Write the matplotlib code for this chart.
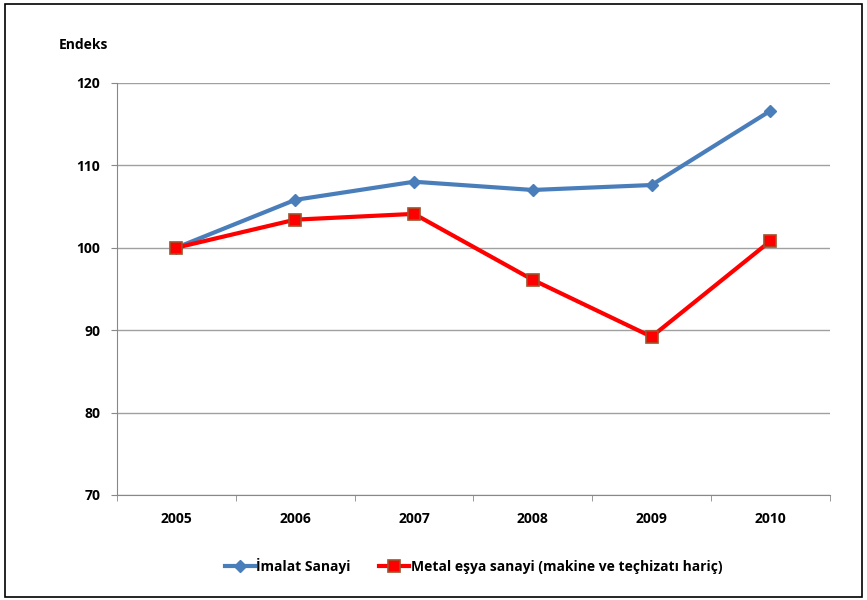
import numpy as np
import matplotlib.pyplot as plt

years = ['2005', '2006', '2007', '2008', '2009', '2010']
imalat = [100.0, 105.8, 108.0, 107.0, 107.6, 116.6]
metal = [100.0, 103.4, 104.1, 96.1, 89.2, 100.8]
yticks = [70, 80, 90, 100, 110, 120]

plt.rcParams['font.family'] = ['Open Sans', 'DejaVu Sans']
plt.rcParams['font.weight'] = 'bold'

fig = plt.figure(figsize=(8.67, 6.0), dpi=100)
ax = fig.add_axes([0.135, 0.175, 0.822, 0.687])

x = np.arange(len(years))
ax.plot(x, imalat, color='#4A7EBB', lw=3, marker='D', ms=6,
        mfc='#4A7EBB', mec='#4A7EBB', label='İmalat Sanayi', zorder=3)
ax.plot(x, metal, color='#FF0000', lw=3, marker='s', ms=8,
        mfc='#FF0000', mec='#A0522D', mew=1.2,
        label='Metal eşya sanayi (makine ve teçhizatı hariç)', zorder=3)

ax.set_xlim(-0.5, 5.5)
ax.set_ylim(70, 120)
ax.set_yticks(yticks)
ax.set_yticklabels([str(v) for v in yticks], fontsize=10, fontweight='bold')
ax.set_xticks(x)
ax.set_xticklabels(years, fontsize=10, fontweight='bold')
ax.set_xticks(np.arange(-0.5, 6.0, 1.0), minor=True)
ax.tick_params(axis='x', which='major', length=0, pad=12)
ax.tick_params(axis='x', which='minor', length=4, color='#888888', direction='out')
ax.tick_params(axis='y', length=4, color='#888888', pad=8)
ax.grid(axis='y', color='#A0A0A0', lw=1)
ax.set_axisbelow(True)
for s in ['top', 'right']:
    ax.spines[s].set_visible(False)
for s in ['left', 'bottom']:
    ax.spines[s].set_color('#888888')

fig.text(0.068, 0.925, 'Endeks', fontsize=10, fontweight='bold', va='center')

ax.legend(loc='center', bbox_to_anchor=(0.5, -0.172), ncol=2, frameon=False,
          prop={'size': 10, 'weight': 'bold'}, handlelength=2.2,
          handletextpad=0.1, columnspacing=2.0)

fig.patches.append(plt.Rectangle((0.006, 0.005), 0.988, 0.988, transform=fig.transFigure,
                                 fill=False, edgecolor='black', lw=1.2))

fig.savefig('out.png', dpi=100)
